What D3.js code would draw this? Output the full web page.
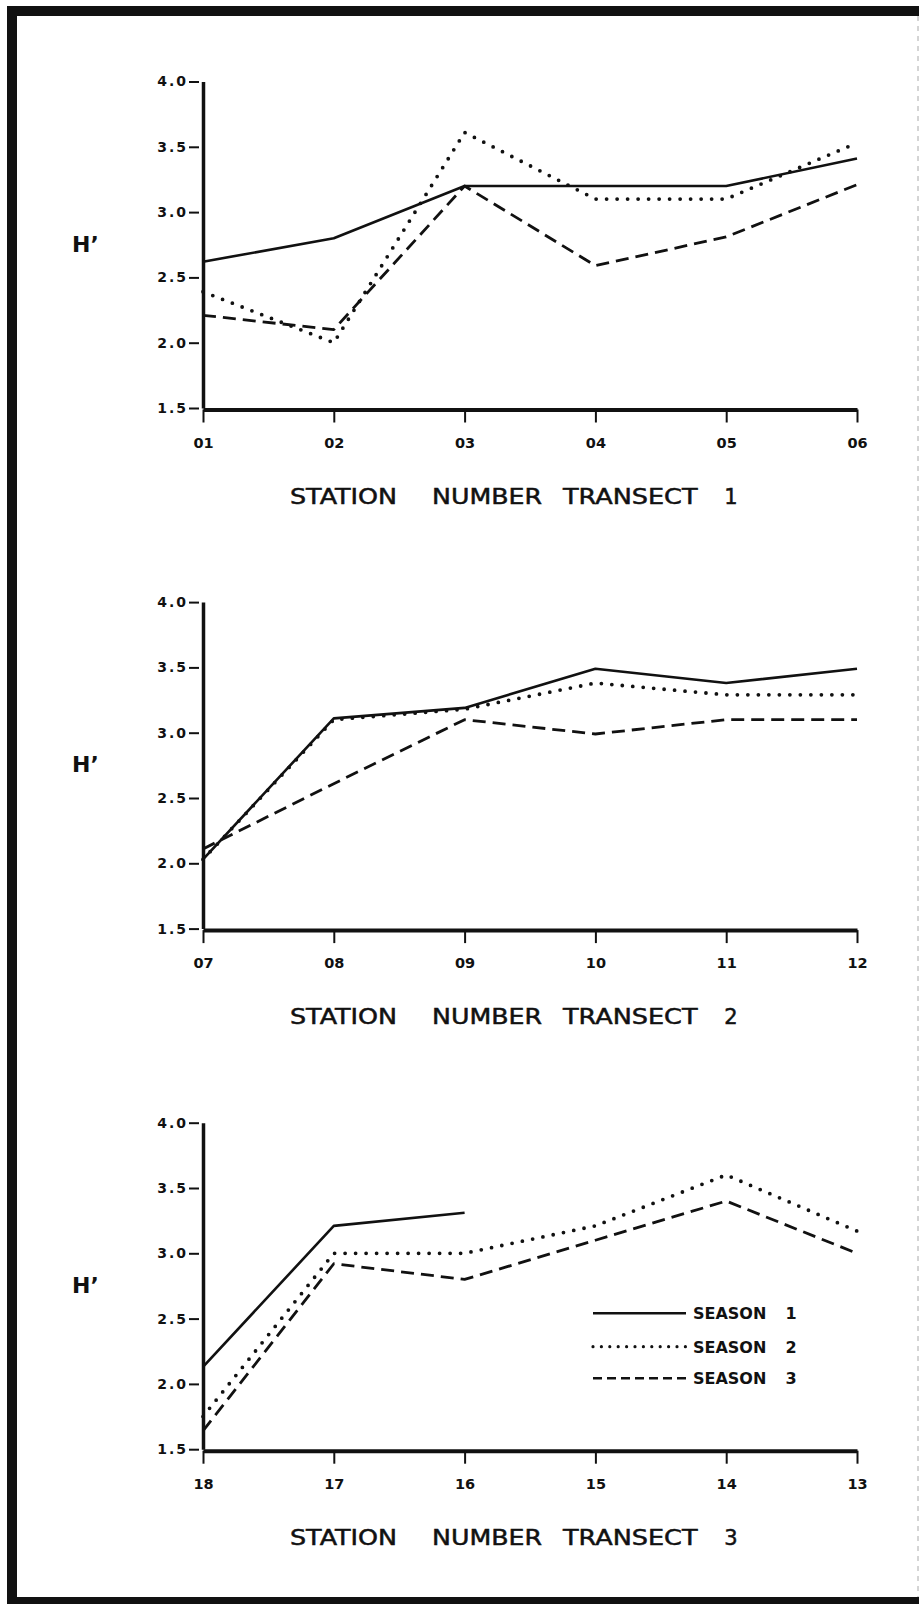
<!DOCTYPE html>
<html>
<head>
<meta charset="utf-8">
<script src="https://cdn.jsdelivr.net/npm/d3@7"></script>
<style>
  html, body { margin: 0; padding: 0; background: #fff; }
  svg { display: block; }
  text { font-family: "DejaVu Sans", "Liberation Sans", sans-serif; fill: #111; }
</style>
</head>
<body>
<svg id="fig" width="919" height="1604"></svg>
<script>
// Shannon diversity H' per station, three sampling seasons, three transects
const seasonNames = ["SEASON 1", "SEASON 2", "SEASON 3"];
const yTickValues = [1.5, 2.0, 2.5, 3.0, 3.5, 4.0];

const transect1Stations = ["01", "02", "03", "04", "05", "06"];
const transect1Season1 = [2.62, 2.80, 3.20, 3.20, 3.20, 3.41];
const transect1Season2 = [2.39, 2.00, 3.61, 3.10, 3.10, 3.53];
const transect1Season3 = [2.21, 2.10, 3.20, 2.59, 2.81, 3.21];

const transect2Stations = ["07", "08", "09", "10", "11", "12"];
const transect2Season1 = [2.03, 3.11, 3.19, 3.49, 3.38, 3.49];
const transect2Season2 = [2.03, 3.10, 3.18, 3.38, 3.29, 3.29];
const transect2Season3 = [2.11, 2.61, 3.10, 2.99, 3.10, 3.10];

const transect3Stations = ["18", "17", "16", "15", "14", "13"];
const transect3Season1 = [2.13, 3.21, 3.31, null, null, null];
const transect3Season2 = [1.75, 3.00, 3.00, 3.21, 3.60, 3.17];
const transect3Season3 = [1.64, 2.92, 2.80, 3.10, 3.40, 3.00];

const titles = ["STATION NUMBER TRANSECT 1", "STATION NUMBER TRANSECT 2", "STATION NUMBER TRANSECT 3"];

const panels = [
  { stations: transect1Stations, series: [transect1Season1, transect1Season2, transect1Season3], title: titles[0] },
  { stations: transect2Stations, series: [transect2Season1, transect2Season2, transect2Season3], title: titles[1] },
  { stations: transect3Stations, series: [transect3Season1, transect3Season2, transect3Season3], title: titles[2], legend: true }
];

// ---- layout ----
const W = 919, H = 1604;
const plotLeft = 203, plotRight = 857, plotH = 326.5;
const panelTop0 = 81.5, panelStep = 520.6;
const ink = "#111";

// stroke patterns for the three seasons (chart, legend)
const seasonStyle = [
  { dash: null, legendDash: null, width: 2.6, cap: "butt" },
  { dash: "0 10.5", legendDash: "0 8.4", width: 3.8, cap: "round" },
  { dash: "13 7", legendDash: "9 5", width: 2.8, cap: "butt" }
];

// positions of the words of each axis title (start x, width); last word centred
const titleWordBoxes = [[290, 107], [432, 110], [563, 134.5], [731, null]];

const svg = d3.select("#fig");
svg.append("rect").attr("width", W).attr("height", H).attr("fill", "#fff");

// page frame
svg.append("rect").attr("x", 7).attr("y", 6).attr("width", W - 7).attr("height", 10).attr("fill", ink);
svg.append("rect").attr("x", 7).attr("y", 6).attr("width", 10).attr("height", H - 6).attr("fill", ink);
svg.append("rect").attr("x", 7).attr("y", 1597).attr("width", W - 7).attr("height", 7).attr("fill", ink);
svg.append("line").attr("x1", 918).attr("x2", 918).attr("y1", 16).attr("y2", 1597)
  .attr("stroke", "#aaa").attr("stroke-width", 1).attr("stroke-dasharray", "5 5");

panels.forEach((p, i) => {
  const top = panelTop0 + i * panelStep;
  const g = svg.append("g").attr("transform", `translate(0,${top})`);

  const x = d3.scalePoint().domain(p.stations).range([plotLeft, plotRight]);
  const y = d3.scaleLinear().domain([1.5, 4.0]).range([plotH, 0]);

  // y axis
  const ya = g.append("g").attr("transform", `translate(${plotLeft},0)`)
    .call(d3.axisLeft(y).tickValues(yTickValues).tickFormat(d3.format(".1f"))
      .tickSize(14).tickSizeOuter(0).tickPadding(3));
  ya.select(".domain").attr("stroke", ink).attr("stroke-width", 3.5);
  ya.selectAll(".tick line").attr("x1", -4).attr("x2", -14).attr("stroke", ink).attr("stroke-width", 2);
  ya.selectAll(".tick text").attr("x", -15)
    .style("font-family", "'DejaVu Sans', sans-serif").style("font-weight", "bold")
    .style("font-size", "14px").style("letter-spacing", "2px").attr("fill", ink);

  // x axis
  const xa = g.append("g").attr("transform", `translate(0,${plotH + 1.5})`)
    .call(d3.axisBottom(x).tickSize(13).tickSizeOuter(0).tickPadding(15));
  xa.select(".domain").attr("stroke", ink).attr("stroke-width", 4);
  xa.selectAll(".tick line").attr("stroke", ink).attr("stroke-width", 2);
  xa.selectAll(".tick text")
    .style("font-family", "'DejaVu Sans', sans-serif").style("font-weight", "bold")
    .style("font-size", "14.5px").attr("fill", ink);

  // y label
  g.append("text").attr("x", 72).attr("y", 170)
    .style("font-weight", "bold").style("font-size", "22px").text("H\u2019");

  // series
  p.series.forEach((vals, k) => {
    const pts = p.stations.map((s, j) => ({ s, v: vals[j] }));
    const line = d3.line().defined(d => d.v != null).x(d => x(d.s)).y(d => y(d.v));
    const st = seasonStyle[k];
    g.append("path").datum(pts)
      .attr("d", line)
      .attr("fill", "none")
      .attr("stroke", ink)
      .attr("stroke-width", st.width)
      .attr("stroke-linejoin", "round")
      .attr("stroke-linecap", st.cap)
      .attr("stroke-dasharray", st.dash);
  });

  // axis title
  const words = p.title.split(" ");
  words.forEach((w, j) => {
    const [wx, ww] = titleWordBoxes[j];
    const t = g.append("text").attr("x", wx).attr("y", 422)
      .style("font-size", "21px")
      .attr("stroke", ink).attr("stroke-width", 0.5)
      .text(w);
    if (ww) t.attr("textLength", ww).attr("lengthAdjust", "spacingAndGlyphs");
    else t.attr("text-anchor", "middle");
  });

  // legend
  if (p.legend) {
    const lg = g.append("g").attr("transform", "translate(593,190.6)");
    seasonNames.forEach((name, k) => {
      const st = seasonStyle[k];
      const row = lg.append("g").attr("transform", `translate(0,${[0, 33.4, 65][k]})`);
      row.append("line").attr("x1", 0).attr("x2", 93).attr("y1", 0).attr("y2", 0)
        .attr("stroke", ink).attr("stroke-width", k === 1 ? 3.2 : 2.6)
        .attr("stroke-linecap", st.cap)
        .attr("stroke-dasharray", st.legendDash);
      const [word, num] = name.split(" ");
      row.append("text").attr("x", 100).attr("y", 6)
        .style("font-weight", "bold").style("font-size", "16px").text(word);
      row.append("text").attr("x", 198).attr("y", 6).attr("text-anchor", "middle")
        .style("font-weight", "bold").style("font-size", "16px").text(num);
    });
  }
});
</script>
</body>
</html>
